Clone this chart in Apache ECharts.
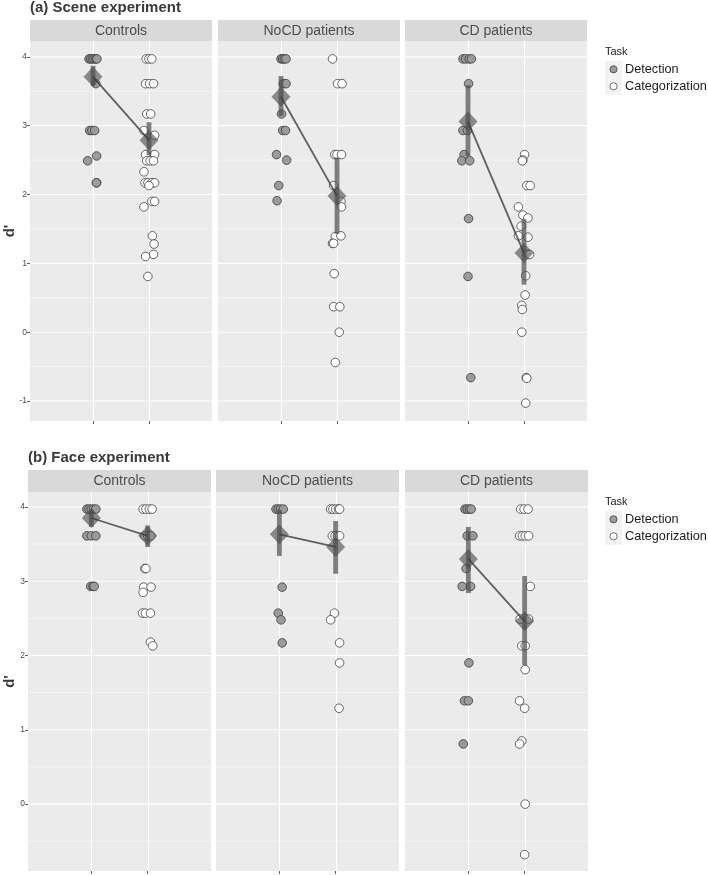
<!DOCTYPE html>
<html><head><meta charset="utf-8">
<script src="https://cdn.jsdelivr.net/npm/echarts@6/dist/echarts.min.js"></script>
<style>html,body{margin:0;padding:0;background:#fff}#c{width:708px;height:875px}</style>
</head><body><div id="c"></div>
<script>
// ---------- DATA ----------
const experiments = ['(a) Scene experiment', '(b) Face experiment'];
const facets = ['Controls', 'NoCD patients', 'CD patients'];
const tasks = ['Detection', 'Categorization'];
const taskX = [1, 2];               // x position of each task inside a facet
const legendTitle = 'Task';
const yTitle = "d'";
const sceneYTicks = [-1, 0, 1, 2, 3, 4];
const sceneYMinor = [-0.5, 0.5, 1.5, 2.5, 3.5];
const faceYTicks = [0, 1, 2, 3, 4];
const faceYMinor = [-0.5, 0.5, 1.5, 2.5, 3.5];

// individual points: [horizontal jitter, d']
const sceneControlsDet = [[-0.07,3.97],[-0.04,3.97],[-0.01,3.97],[0.02,3.97],[0.05,3.97],[0.07,3.97],[0.05,3.61],[-0.06,2.93],[-0.02,2.93],[0.03,2.93],[0.065,2.56],[-0.095,2.49],[0.065,2.17],[0.06,2.17]];
const sceneControlsCat = [[-0.05,3.97],[0,3.97],[0.05,3.97],[-0.06,3.61],[0.01,3.61],[0.08,3.61],[-0.04,3.17],[0.03,3.17],[-0.09,2.93],[0.1,2.86],[-0.06,2.58],[0.1,2.58],[-0.04,2.49],[0.02,2.49],[0.08,2.49],[-0.09,2.33],[-0.07,2.17],[-0.02,2.17],[0.05,2.17],[0.1,2.17],[0.0,2.13],[0.05,1.90],[0.1,1.90],[-0.09,1.82],[0.06,1.40],[0.09,1.28],[0.08,1.13],[-0.06,1.10],[-0.02,0.81]];
const sceneNoCDDet = [[0.0,3.97],[0.03,3.97],[0.06,3.97],[0.09,3.97],[0.04,3.61],[0.09,3.61],[0.01,3.17],[0.03,2.93],[0.08,2.93],[-0.08,2.58],[0.1,2.50],[-0.04,2.13],[-0.07,1.91]];
const sceneNoCDCat = [[-0.08,3.97],[0.01,3.61],[0.09,3.61],[-0.04,2.58],[0.0,2.58],[0.08,2.58],[-0.06,2.13],[0.07,1.90],[0.08,1.82],[-0.03,1.39],[0.07,1.40],[-0.08,1.29],[-0.06,1.29],[-0.05,0.85],[-0.06,0.37],[0.05,0.37],[0.04,0.0],[-0.03,-0.44]];
const sceneCDDet = [[-0.09,3.97],[-0.04,3.97],[0.02,3.97],[0.06,3.97],[0.01,3.61],[-0.09,2.93],[-0.01,2.93],[-0.07,2.58],[-0.11,2.49],[0.03,2.49],[0.01,1.65],[0.0,0.81],[0.05,-0.66]];
const sceneCDCat = [[0.01,2.58],[-0.02,2.50],[-0.03,2.49],[0.05,2.13],[0.11,2.13],[-0.1,1.82],[-0.02,1.70],[0.07,1.66],[-0.05,1.54],[-0.1,1.40],[0.07,1.38],[0.07,1.13],[0.1,1.13],[0.03,0.82],[0.02,0.54],[-0.04,0.39],[-0.03,0.33],[-0.04,0.0],[0.04,-0.66],[0.05,-0.67],[0.03,-1.03]];

const faceControlsDet = [[-0.08,3.97],[-0.04,3.97],[0.0,3.97],[0.04,3.97],[0.08,3.97],[-0.08,3.61],[0.0,3.61],[0.08,3.61],[-0.01,2.93],[0.03,2.93],[0.05,2.93]];
const faceControlsCat = [[-0.08,3.97],[-0.03,3.97],[0.03,3.97],[0.08,3.97],[-0.05,3.61],[0.0,3.61],[0.06,3.61],[-0.05,3.17],[-0.03,3.17],[-0.07,2.92],[0.06,2.92],[-0.08,2.85],[-0.09,2.57],[-0.04,2.57],[0.05,2.57],[0.05,2.18],[0.09,2.13]];
const faceNoCDDet = [[-0.06,3.97],[-0.02,3.97],[0.02,3.97],[0.07,3.97],[0.05,2.92],[-0.02,2.57],[0.03,2.48],[0.05,2.17]];
const faceNoCDCat = [[-0.09,3.97],[-0.05,3.97],[0.0,3.97],[0.05,3.97],[0.07,3.97],[-0.06,3.61],[-0.01,3.61],[0.03,3.61],[0.07,3.61],[-0.02,2.57],[-0.09,2.48],[0.07,2.17],[0.07,1.90],[0.06,1.29]];
const faceCDDet = [[-0.06,3.97],[-0.02,3.97],[0.02,3.97],[0.05,3.97],[-0.02,3.61],[0.08,3.61],[-0.04,3.17],[-0.11,2.93],[0.04,2.93],[0.01,1.90],[-0.07,1.39],[0.0,1.39],[-0.09,0.81]];
const faceCDCat = [[-0.07,3.97],[-0.01,3.97],[0.06,3.97],[-0.09,3.61],[-0.04,3.61],[0.01,3.61],[0.07,3.61],[0.1,2.93],[-0.08,2.49],[0.07,2.49],[-0.05,2.13],[0.01,2.13],[0.01,1.81],[-0.09,1.39],[0.0,1.29],[-0.05,0.85],[-0.09,0.81],[0.01,0.0],[0.0,-0.68]];

// group means and error bars: [Detection, Categorization] per facet
const sceneMeans = [[3.71, 2.79], [3.42, 1.98], [3.06, 1.15]];
const sceneLow   = [[3.58, 2.57], [3.14, 1.43], [2.56, 0.69]];
const sceneHigh  = [[3.87, 3.05], [3.72, 2.54], [3.59, 1.64]];
const faceMeans  = [[3.85, 3.61], [3.63, 3.46], [3.30, 2.46]];
const faceLow    = [[3.73, 3.46], [3.34, 3.10], [2.84, 1.87]];
const faceHigh   = [[3.95, 3.75], [3.96, 3.81], [3.73, 3.07]];

const scenePoints = [[sceneControlsDet, sceneControlsCat], [sceneNoCDDet, sceneNoCDCat], [sceneCDDet, sceneCDCat]];
const facePoints  = [[faceControlsDet, faceControlsCat], [faceNoCDDet, faceNoCDCat], [faceCDDet, faceCDCat]];

// ---------- LAYOUT / STYLE ----------
const rows = [
  {points: scenePoints, means: sceneMeans, low: sceneLow, high: sceneHigh, ticks: sceneYTicks, minor: sceneYMinor,
   gridTop: 41, gridH: 380, lefts: [30, 218, 405], w: 182, yMin: -1.29, yMax: 4.23, titleY: 7.5, titleX: 30, stripTop: 20, legendTop: 0},
  {points: facePoints, means: faceMeans, low: faceLow, high: faceHigh, ticks: faceYTicks, minor: faceYMinor,
   gridTop: 492, gridH: 379, lefts: [28, 216, 405], w: 183, yMin: -0.9, yMax: 4.2, titleY: 457.5, titleX: 28, stripTop: 470, legendTop: 450}
];
const X_MIN = -0.125, X_MAX = 3.125;
const FONT = 'Liberation Sans, Arial, sans-serif';
const fills = ['#9b9b9b', '#ffffff'];
const panelBg = '#EBEBEB', stripBg = '#D9D9D9';

function gridRender(params, api) {
  const cs = params.coordSys;
  const kind = api.value(2);
  if (kind === 2) {
    const x = Math.round(api.coord([api.value(0), 0])[0]) + 0.5;
    return {type: 'line', shape: {x1: x, y1: cs.y, x2: x, y2: cs.y + cs.height}, style: {stroke: '#fff', lineWidth: 1.1}, silent: true};
  }
  const y = api.coord([0, api.value(1)])[1];
  return {type: 'line', shape: {x1: cs.x, y1: y, x2: cs.x + cs.width, y2: y},
          style: {stroke: '#fff', lineWidth: kind === 0 ? 1.1 : 0.55}, silent: true};
}
function barRender(params, api) {
  const p1 = api.coord([api.value(0), api.value(1)]);
  const p2 = api.coord([api.value(0), api.value(2)]);
  return {type: 'line', shape: {x1: p1[0], y1: p1[1], x2: p2[0], y2: p2[1]},
          style: {stroke: 'rgba(80,80,80,0.72)', lineWidth: 4.8}};
}

const grids = [], xAxes = [], yAxes = [], series = [], graphics = [];
rows.forEach((r, ri) => {
  // section title
  graphics.push({type: 'text', x: r.titleX, y: r.titleY, style: {text: experiments[ri], fontFamily: FONT, fontSize: 15, fontWeight: 'bold', fill: '#3a3a3a', align: 'left', verticalAlign: 'middle'}});
  // y title
  graphics.push({type: 'text', x: 9.5, y: r.gridTop + r.gridH / 2, rotation: Math.PI / 2,
    style: {text: yTitle, fontFamily: FONT, fontSize: 15, fontWeight: 'bold', fill: '#3a3a3a', align: 'center', verticalAlign: 'middle'}});
  // legend
  const lt = r.legendTop;
  graphics.push({type: 'text', x: 605, y: 51.5 + lt, style: {text: legendTitle, fontFamily: FONT, fontSize: 11, fill: '#222', align: 'left', verticalAlign: 'middle'}});
  tasks.forEach((t, ti) => {
    const cy = 69.3 + lt + ti * 17;
    graphics.push({type: 'rect', shape: {x: 605, y: cy - 8.5, width: 17, height: 17}, style: {fill: '#F2F2F2'}});
    graphics.push({type: 'circle', shape: {cx: 613.5, cy: cy, r: 3.6}, style: {fill: fills[ti], stroke: '#333', lineWidth: 0.7}});
    graphics.push({type: 'text', x: 625, y: cy, style: {text: t, fontFamily: FONT, fontSize: 12.7, fill: '#1a1a1a', align: 'left', verticalAlign: 'middle'}});
  });

  facets.forEach((f, fi) => {
    const g = grids.length;
    const left = r.lefts[fi];
    grids.push({left: left, top: r.gridTop, width: r.w, height: r.gridH, show: true, backgroundColor: panelBg, borderWidth: 0, outerBoundsMode: 'none', containLabel: false});
    // strip
    graphics.push({type: 'rect', shape: {x: left, y: r.stripTop, width: r.w, height: r.gridTop - r.stripTop}, style: {fill: stripBg}});
    graphics.push({type: 'text', x: left + r.w / 2, y: (r.stripTop + r.gridTop) / 2 + 0.5,
      style: {text: f, fontFamily: FONT, fontSize: 14, fill: '#4d4d4d', align: 'center', verticalAlign: 'middle'}});

    xAxes.push({gridIndex: g, type: 'value', min: X_MIN, max: X_MAX, position: 'bottom',
      axisLine: {show: false, onZero: false}, splitLine: {show: false},
      axisLabel: {show: false, customValues: taskX},
      axisTick: {show: true, length: 3, customValues: taskX, lineStyle: {color: '#333', width: 0.8}}});
    yAxes.push({gridIndex: g, type: 'value', min: r.yMin, max: r.yMax,
      axisLine: {show: false, onZero: false}, splitLine: {show: false},
      axisTick: {show: fi === 0, length: 3, customValues: r.ticks, lineStyle: {color: '#333', width: 0.8}},
      axisLabel: {show: fi === 0, customValues: r.ticks, fontSize: 8.5, color: '#4d4d4d', margin: 3, fontFamily: FONT}});

    // grid lines
    const gl = [];
    r.ticks.forEach(v => gl.push([0, v, 0]));
    r.minor.forEach(v => gl.push([0, v, 1]));
    taskX.forEach(v => gl.push([v, 0, 2]));
    series.push({type: 'custom', xAxisIndex: g, yAxisIndex: g, z: 1, silent: true, renderItem: gridRender,
      encode: {x: 0, y: 1}, data: gl, clip: true});

    // points
    tasks.forEach((t, ti) => {
      series.push({type: 'scatter', name: t, xAxisIndex: g, yAxisIndex: g, z: 3,
        symbol: 'circle', symbolSize: 8.6,
        itemStyle: {color: fills[ti], borderColor: '#333', borderWidth: 0.75, opacity: 1},
        data: r.points[fi][ti].map(p => [taskX[ti] + p[0], p[1]])});
    });
    // error bars
    series.push({type: 'custom', xAxisIndex: g, yAxisIndex: g, z: 4, renderItem: barRender,
      encode: {x: 0, y: [1, 2]},
      data: taskX.map((x, ti) => [x, r.low[fi][ti], r.high[fi][ti]])});
    // mean diamonds
    series.push({type: 'scatter', xAxisIndex: g, yAxisIndex: g, z: 5, symbol: 'diamond', symbolSize: [19, 20],
      itemStyle: {color: 'rgba(77,77,77,0.78)'},
      data: taskX.map((x, ti) => [x, r.means[fi][ti]])});
    // connecting line
    series.push({type: 'line', xAxisIndex: g, yAxisIndex: g, z: 6, symbol: 'none',
      lineStyle: {color: 'rgba(60,60,60,0.8)', width: 1.8},
      data: taskX.map((x, ti) => [x, r.means[fi][ti]])});
  });
});

const chart = echarts.init(document.getElementById('c'), null, {renderer: 'canvas'});
chart.setOption({
  animation: false,
  backgroundColor: '#ffffff',
  grid: grids, xAxis: xAxes, yAxis: yAxes, series: series,
  graphic: {elements: graphics}
});
</script></body></html>
